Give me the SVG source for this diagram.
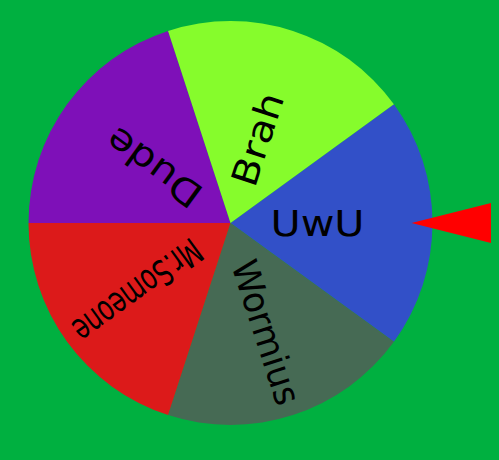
<svg xmlns="http://www.w3.org/2000/svg" width="499" height="460" viewBox="0 0 499 460">
<style>
.lbl{font-family:"DejaVu Sans","Noto Sans",sans-serif;font-size:36px;fill:#000;dominant-baseline:central}
</style>
<rect width="499" height="460" fill="#00B040"/>
<g id="wheel">
<g id="uwu">
<path d="M230.5 223 L393.92 104.27 A202 202 0 0 1 393.92 341.73 Z" fill="#3250C8"/>
<text class="lbl" transform="translate(230.5 223) rotate(0)" x="40" y="0" textLength="94" lengthAdjust="spacingAndGlyphs">UwU</text>
</g>
<g id="wormius">
<path d="M230.5 223 L393.92 341.73 A202 202 0 0 1 168.08 415.11 Z" fill="#466A54"/>
<text class="lbl" transform="translate(230.5 223) rotate(72)" x="40" y="0" textLength="150" lengthAdjust="spacingAndGlyphs">Wormius</text>
</g>
<g id="mrsomeone">
<path d="M230.5 223 L168.08 415.11 A202 202 0 0 1 28.5 223 Z" fill="#DC1A1A"/>
<text class="lbl" transform="translate(230.5 223) rotate(144)" x="40" y="0" textLength="150" lengthAdjust="spacingAndGlyphs">Mr.Someone</text>
</g>
<g id="dude">
<path d="M230.5 223 L28.5 223 A202 202 0 0 1 168.08 30.89 Z" fill="#7E10B8"/>
<text class="lbl" transform="translate(230.5 223) rotate(216)" x="40" y="0" textLength="109" lengthAdjust="spacingAndGlyphs">Dude</text>
</g>
<g id="brah">
<path d="M230.5 223 L168.08 30.89 A202 202 0 0 1 393.92 104.27 Z" fill="#86FC2C"/>
<text class="lbl" transform="translate(230.5 223) rotate(288)" x="40" y="0" textLength="96" lengthAdjust="spacingAndGlyphs">Brah</text>
</g>
</g>
<g id="pointer">
<polygon points="411.5,223 491,203 491,243" fill="#FF0000"/>
</g>
</svg>
